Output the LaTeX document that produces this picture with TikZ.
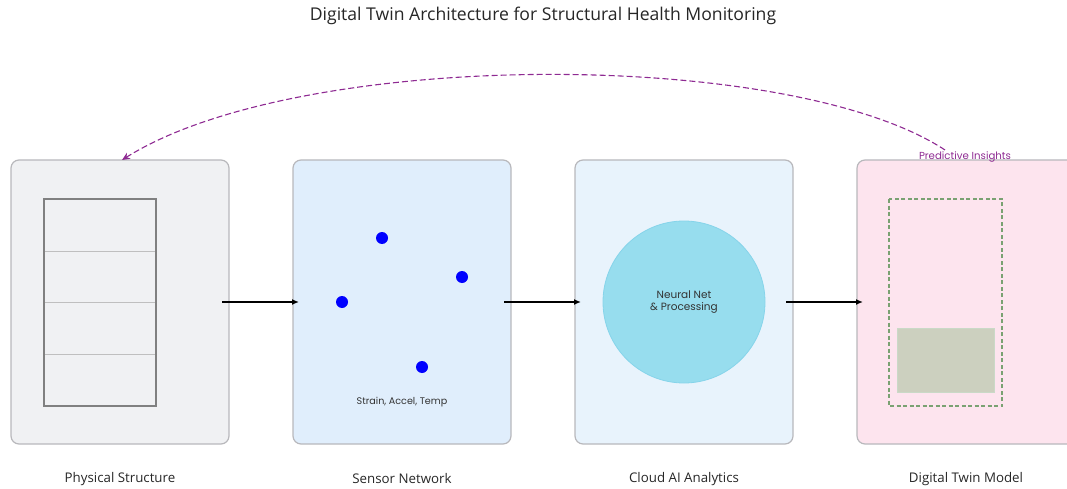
\documentclass[tikz,border=0pt]{standalone}
\usepackage{fontspec}
\setmainfont{Open Sans}
\newfontfamily\smallfont{Poppins}
\usetikzlibrary{arrows.meta}
\definecolor{boxline}{HTML}{B8B8BC}
\definecolor{physfill}{HTML}{F0F1F3}
\definecolor{sensfill}{HTML}{E0EEFC}
\definecolor{cloudfill}{HTML}{E8F3FC}
\definecolor{twinfill}{HTML}{FDE4EE}
\definecolor{nnfill}{HTML}{97DDEE}
\definecolor{nnline}{HTML}{86D4EA}
\definecolor{insight}{HTML}{8E2A92}
\definecolor{twingreen}{HTML}{7AA172}
\definecolor{twinblock}{HTML}{CCD0BF}
\begin{document}
\begin{tikzpicture}[x=1pt,y=-1pt,
  stage/.style={draw=boxline,line width=1.2pt,rounded corners=8pt},
  flow/.style={-{Latex[length=7pt,width=6pt]},line width=1.6pt,black},
  caption/.style={font=\fontsize{13.3}{15}\selectfont,text=black!85,anchor=center},
  sensor/.style={circle,fill=blue,inner sep=0pt,minimum size=12pt}]
\useasboundingbox (0,0) rectangle (1067,489);
% title
\node[font=\fontsize{17.6}{20}\selectfont,text=black!85] (title) at (543,16) {Digital Twin Architecture for Structural Health Monitoring};
% stage panels
\draw[stage,fill=physfill] (11,160) rectangle (229,444);
\draw[stage,fill=sensfill] (293,160) rectangle (511,444);
\draw[stage,fill=cloudfill] (575,160) rectangle (793,444);
\draw[stage,fill=twinfill] (857,160) rectangle (1075,444);
% physical structure: building with floors
\draw[black!25,line width=0.8pt] (44,251) -- (156,251) (44,302) -- (156,302) (44,354) -- (156,354);
\draw[black!50,line width=2pt] (44,199) rectangle (156,406);
% sensor network
\node[sensor] (s1) at (382,238) {};
\node[sensor] (s2) at (462,277) {};
\node[sensor] (s3) at (342,302) {};
\node[sensor] (s4) at (422,367) {};
\node[font=\smallfont\fontsize{9.6}{11}\selectfont,text=black!80] (slabel) at (402,402) {Strain, Accel, Temp};
% cloud analytics
\node[circle,fill=nnfill,draw=nnline,line width=0.8pt,minimum size=162pt,inner sep=0pt,
  align=center,font=\smallfont\fontsize{10.5}{12}\selectfont,text=black!80] (nn) at (684,302) {Neural Net\\\& Processing};
% digital twin model
\draw[twingreen,line width=1.1pt,dash pattern=on 4pt off 2.5pt] (889,199) rectangle (1002,406);
\draw[fill=twinblock,draw=twingreen!40,line width=0.8pt] (897,328) rectangle (994,392);
% stage captions
\node[caption] (c1) at (120,479) {Physical Structure};
\node[caption] (c2) at (402,479) {Sensor Network};
\node[caption] (c3) at (684,479) {Cloud AI Analytics};
\node[caption] (c4) at (966,479) {Digital Twin Model};
% data flow
\coordinate (a1s) at (222,302); \coordinate (a1e) at (299,302);
\coordinate (a2s) at (504,302); \coordinate (a2e) at (581,302);
\coordinate (a3s) at (786,302); \coordinate (a3e) at (863,302);
\draw[flow] (a1s) -- (a1e);
\draw[flow] (a2s) -- (a2e);
\draw[flow] (a3s) -- (a3e);
% feedback loop
\coordinate (fbs) at (945,150);
\coordinate (fbe) at (122,160);
\draw[insight,line width=1.1pt,dash pattern=on 6pt off 3pt,-{Stealth[length=8pt,width=7pt]}]
  (fbs) .. controls (790,48) and (300,48) .. (fbe);
\node[font=\smallfont\fontsize{10.2}{11}\selectfont,text=insight] (ins) at (965,157) {Predictive Insights};
\end{tikzpicture}
\end{document}
